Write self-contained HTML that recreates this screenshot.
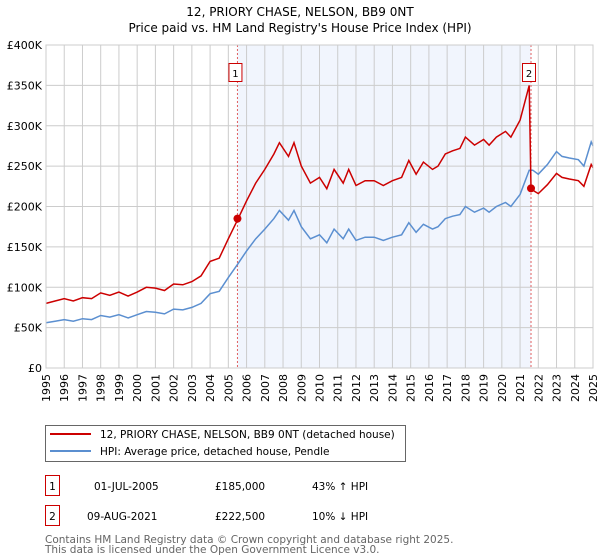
<!DOCTYPE html>
<html><head><meta charset="utf-8"><style>
body{margin:0;width:600px;height:560px;background:#fff;font-family:"DejaVu Sans","Liberation Sans",sans-serif;overflow:hidden}
svg{display:block}
</style></head><body>
<svg width="600" height="560" xmlns="http://www.w3.org/2000/svg">
<text x="300" y="16" text-anchor="middle" font-size="12">12, PRIORY CHASE, NELSON, BB9 0NT</text>
<text x="300" y="32" text-anchor="middle" font-size="12">Price paid vs. HM Land Registry's House Price Index (HPI)</text>
<g id="plot"></g>
<g>
<rect x="45.5" y="425.5" width="360" height="36" fill="#fff" stroke="#666"/>
<line x1="50" y1="434" x2="91" y2="434" stroke="#cc0000" stroke-width="2"/>
<text x="100" y="438" font-size="10.5">12, PRIORY CHASE, NELSON, BB9 0NT (detached house)</text>
<line x1="50" y1="451" x2="91" y2="451" stroke="#5b8fd0" stroke-width="2"/>
<text x="100" y="455" font-size="10.5">HPI: Average price, detached house, Pendle</text>
</g>
<g font-size="10.5">
<rect x="45.5" y="475.5" width="14" height="20" fill="#fff" stroke="#cc0000"/>
<text x="52.5" y="490" text-anchor="middle">1</text>
<text x="94" y="490">01-JUL-2005</text><text x="215" y="490">£185,000</text><text x="312" y="490">43% ↑ HPI</text>
<rect x="45.5" y="505.5" width="14" height="20" fill="#fff" stroke="#cc0000"/>
<text x="52.5" y="520" text-anchor="middle">2</text>
<text x="87" y="520">09-AUG-2021</text><text x="215" y="520">£222,500</text><text x="312" y="520">10% ↓ HPI</text>
</g>
<text x="45" y="543" font-size="10.5" fill="#666">Contains HM Land Registry data © Crown copyright and database right 2025.</text>
<text x="45" y="553" font-size="10.5" fill="#666">This data is licensed under the Open Government Licence v3.0.</text>
</svg>
<script>
const hpiYears=[1995,1995.5,1996,1996.5,1997,1997.5,1998,1998.5,1999,1999.5,2000,2000.5,2001,2001.5,2002,2002.5,2003,2003.5,2004,2004.5,2005,2005.5,2006,2006.5,2007,2007.5,2007.8,2008.3,2008.6,2009,2009.5,2010,2010.4,2010.8,2011.3,2011.6,2012,2012.5,2013,2013.5,2014,2014.5,2014.9,2015.3,2015.7,2016.2,2016.5,2016.9,2017.3,2017.7,2018,2018.5,2019,2019.3,2019.7,2020.2,2020.5,2021,2021.5,2021.7,2022,2022.5,2023,2023.3,2023.7,2024.2,2024.5,2024.9,2025];
const hpiValues=[56,58,60,58,61,60,65,63,66,62,66,70,69,67,73,72,75,80,92,95,112,128,145,160,172,185,195,183,195,175,160,165,155,172,160,172,158,162,162,158,162,165,180,168,178,172,175,185,188,190,200,193,198,193,200,205,200,215,245,245,240,252,268,262,260,258,250,280,275];
const priceYears=[1995,1995.5,1996,1996.5,1997,1997.5,1998,1998.5,1999,1999.5,2000,2000.5,2001,2001.5,2002,2002.5,2003,2003.5,2004,2004.5,2005,2005.5,2006,2006.5,2007,2007.5,2007.8,2008.3,2008.6,2009,2009.5,2010,2010.4,2010.8,2011.3,2011.6,2012,2012.5,2013,2013.5,2014,2014.5,2014.9,2015.3,2015.7,2016.2,2016.5,2016.9,2017.3,2017.7,2018,2018.5,2019,2019.3,2019.7,2020.2,2020.5,2021,2021.5,2021.6,2021.7,2022,2022.5,2023,2023.3,2023.7,2024.2,2024.5,2024.9,2025];
const priceValues=[80,83,86,83,87,86,93,90,94,89,94,100,99,96,104,103,107,114,132,136,160,183,207,229,246,265,279,262,279,250,229,236,222,246,229,246,226,232,232,226,232,236,257,240,255,246,250,265,269,272,286,276,283,276,286,293,286,307,350,222.5,220,216,227,241,236,234,232,225,252,248];
const saleYears=[2005.5,2021.6];
const saleValues=[185,222.5];
const saleLabels=["1","2"];
const yTicks=[0,50,100,150,200,250,300,350,400];
const yTickLabels=["£0","£50K","£100K","£150K","£200K","£250K","£300K","£350K","£400K"];
const xTicks=[1995,1996,1997,1998,1999,2000,2001,2002,2003,2004,2005,2006,2007,2008,2009,2010,2011,2012,2013,2014,2015,2016,2017,2018,2019,2020,2021,2022,2023,2024,2025];

const X0=46,X1=593,Y0=368,Y1=45;
const xs=v=>X0+(v-1995)/30*(X1-X0);
const ys=v=>Y0-(v/400)*(Y0-Y1);
const NS="http://www.w3.org/2000/svg";
const g=document.getElementById('plot');
function mk(t,a){const e=document.createElementNS(NS,t);for(const k in a)e.setAttribute(k,a[k]);g.appendChild(e);return e;}
let e=mk('rect',{x:X0,y:Y1,width:X1-X0,height:Y0-Y1,fill:'#fff'});


e=mk('rect',{x:xs(saleYears[0]),y:Y1,width:xs(saleYears[1])-xs(saleYears[0]),height:Y0-Y1,fill:'#eef3fc',opacity:0.8});


yTicks.forEach((t,i)=>{
 e=mk('line',{x1:X0,x2:X1,y1:ys(t),y2:ys(t),stroke:'#ccc','stroke-width':1});
 
 
 e=mk('text',{x:X0-4,y:ys(t)+4,'text-anchor':'end','font-size':'11'});
 e.textContent=yTickLabels[i];
 
 
});
xTicks.forEach(t=>{
 e=mk('line',{x1:xs(t),x2:xs(t),y1:Y1,y2:Y0,stroke:'#ccc','stroke-width':1});
 
 
 e=mk('text',{x:0,y:0,'font-size':'11','text-anchor':'end',transform:`translate(${xs(t)+4},${Y0+6}) rotate(-90)`});
 e.textContent=t;
 
 
});
saleYears.forEach((s,i)=>{
 e=mk('line',{x1:xs(s),x2:xs(s),y1:Y1,y2:Y0,stroke:'#e06060','stroke-dasharray':'2,2','stroke-width':1});
 
 
});
const path=(xa,va)=>xa.map((x,i)=>(i?'L':'M')+xs(x).toFixed(1)+','+ys(va[i]).toFixed(1)).join('');
e=mk('path',{d:path(hpiYears,hpiValues),fill:'none',stroke:'#5b8fd0','stroke-width':1.5});


e=mk('path',{d:path(priceYears,priceValues),fill:'none',stroke:'#cc0000','stroke-width':1.5});


saleYears.forEach((s,i)=>{
 e=mk('circle',{cx:xs(s),cy:ys(saleValues[i]),r:4,fill:'#cc0000'});
 
 
 e=mk('rect',{x:xs(s)-8.5,y:63.5,width:13,height:18,fill:'#fff',stroke:'#cc0000'});
 
 
 e=mk('text',{x:xs(s)-2,y:77,'text-anchor':'middle','font-size':'10'});
 e.textContent=saleLabels[i];
 
 
});
e=mk('rect',{x:X0,y:Y1,width:X1-X0,height:Y0-Y1,fill:'none',stroke:'#ccc'});


</script>
</body></html>
